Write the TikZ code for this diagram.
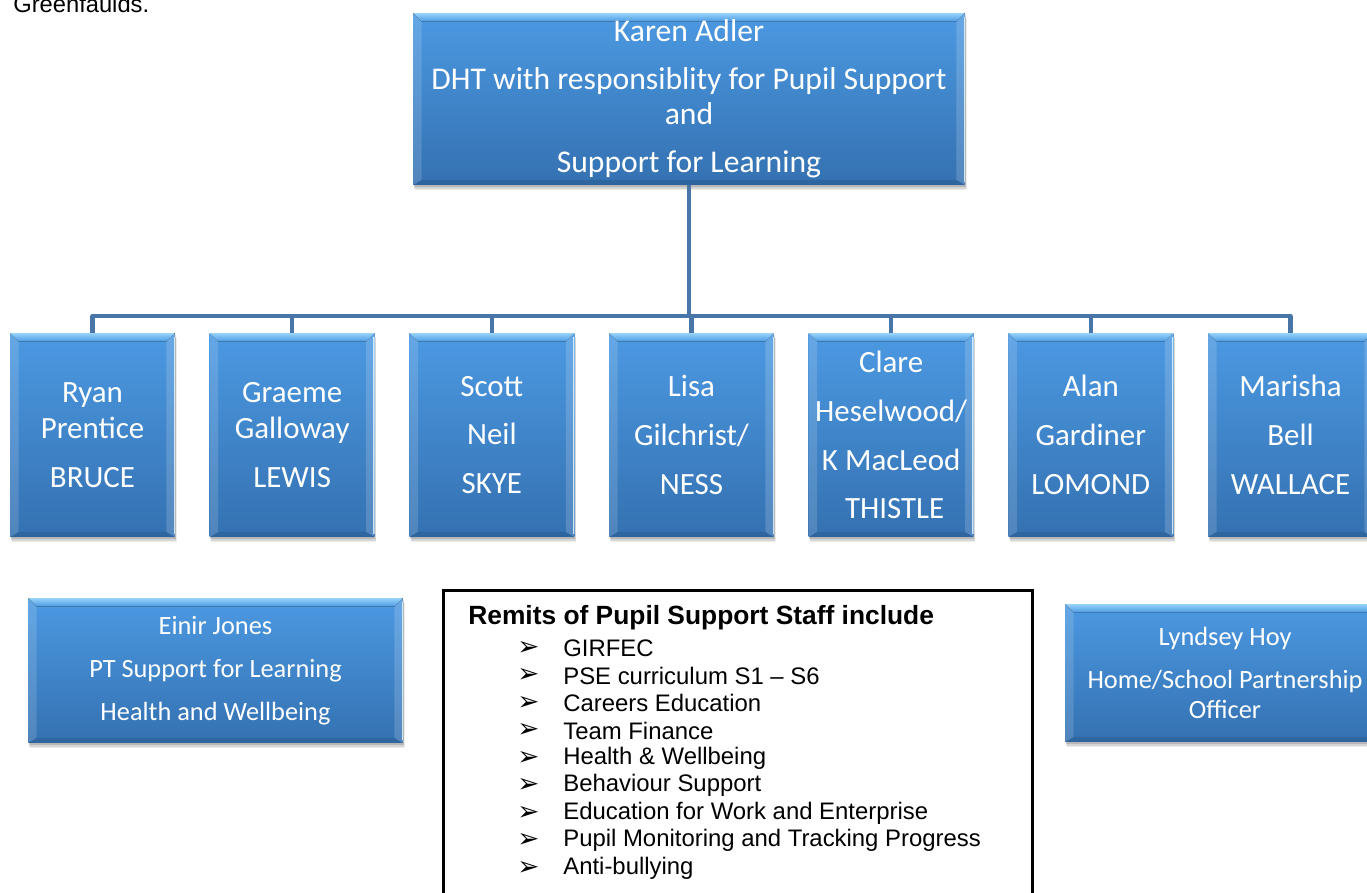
\documentclass[tikz,border=0pt]{standalone}
\usepackage{fontspec}
\setmainfont{Liberation Sans}
\newfontfamily\tilefont{Carlito}
\newfontfamily\dingfont{DejaVu Sans}
\usetikzlibrary{positioning,shadows}
\definecolor{tiletop}{RGB}{76,153,226}
\definecolor{tilebot}{RGB}{52,113,177}
\definecolor{tilehi}{RGB}{150,212,250}
\definecolor{tileedge}{RGB}{225,246,255}
\definecolor{linkblue}{RGB}{72,118,168}

% bevelled rim drawn inside every blue tile
\newcommand{\tilerim}{%
  \coordinate (nw) at (path picture bounding box.north west);
  \coordinate (ne) at (path picture bounding box.north east);
  \coordinate (sw) at (path picture bounding box.south west);
  \coordinate (se) at (path picture bounding box.south east);
  \fill[top color=tilehi,bottom color=tiletop] (nw) -- (ne) -- ([shift={(-.17cm,-.17cm)}]ne) -- ([shift={(.17cm,-.17cm)}]nw) -- cycle;
  \fill[white,fill opacity=.14] (nw) -- ([shift={(.17cm,-.17cm)}]nw) -- ([shift={(.17cm,.1cm)}]sw) -- (sw) -- cycle;
  \fill[white,fill opacity=.16] (ne) -- (se) -- ([shift={(-.17cm,.1cm)}]se) -- ([shift={(-.17cm,-.17cm)}]ne) -- cycle;
  \fill[black,fill opacity=.1] (sw) -- ([shift={(.17cm,.1cm)}]sw) -- ([shift={(-.17cm,.1cm)}]se) -- (se) -- cycle;
  \draw[tileedge,line width=1.6pt,draw opacity=.85] ([yshift=-.08cm]ne) -- ([yshift=.06cm]se);
}

\tikzset{
  tile/.style={rectangle,inner sep=0pt,text=white,align=center,
    top color=tiletop,bottom color=tilebot,path picture={\tilerim},
    drop shadow={shadow xshift=.4pt,shadow yshift=-1pt,opacity=.14,fill=black},
    drop shadow={shadow xshift=.7pt,shadow yshift=-2pt,opacity=.1,fill=black},
    drop shadow={shadow xshift=1pt,shadow yshift=-3pt,opacity=.07,fill=black}},
  house/.style={tile,minimum width=3.3cm,minimum height=4.08cm,
    font=\tilefont\fontsize{17.6}{27.8}\selectfont},
  aide/.style={tile,minimum width=7.5cm,minimum height=2.9cm,
    font=\tilefont\fontsize{15}{24.4}\selectfont},
  link/.style={draw=linkblue,line width=2.6pt},
  remit/.style={anchor=west,inner xsep=0pt,font=\fontsize{13.6}{16}\selectfont}
}

\begin{document}
\begin{tikzpicture}[x=0.02cm,y=-0.02cm,node distance=0.68cm]
\useasboundingbox (0,0) rectangle (1367,893);

\node[anchor=base west,inner sep=0pt,font=\fontsize{13.5}{16}\selectfont] (school) at (13,12) {Greenfaulds.};

% head of pupil support
\node[tile,minimum width=11.04cm,minimum height=3.44cm,font=\tilefont\fontsize{18}{27.2}\selectfont] (dht) at (689,99)
  {Karen Adler\\DHT with responsiblity for Pupil Support\\[-7.3pt]and\\Support for Learning};

% house heads
\node[house] (bruce) at (92.5,435) {Ryan\\[-7pt]Prentice\\BRUCE};
\node[house,right=of bruce] (lewis) {Graeme\\[-7pt]Galloway\\LEWIS};
\node[house,right=of lewis] (skye) {Scott\\Neil\\SKYE};
\node[house,right=of skye] (ness) {Lisa\\Gilchrist/\\NESS};
\node[house,right=of ness] (thistle) {Clare\\Heselwood/\\K MacLeod\\\ THISTLE};
\node[house,right=of thistle] (lomond) {Alan\\Gardiner\\LOMOND};
\node[house,right=of lomond] (wallace) {Marisha\\Bell\\WALLACE};

\coordinate (bus) at (689,316);
\draw[link] (dht.south) -- (bus);
\draw[link,line cap=round] (bruce.north |- bus) -- (wallace.north |- bus);
\foreach \h in {bruce,lewis,skye,ness,thistle,lomond,wallace}
  \draw[link] (\h.north |- bus) -- (\h.north);

% support staff
\node[aide] (sfl) at (215.5,670.5) {Einir Jones\\PT Support for Learning\\Health and Wellbeing};
\node[aide,minimum width=6.4cm,minimum height=2.76cm] (hsp) at (1225,673)
  {Lyndsey Hoy\\Home/School Partnership\\[-7.4pt]Officer};

% remits
\node[draw,line width=1.7pt,minimum width=11.8cm,minimum height=6.8cm] (remits) at (738,760) {};
\node[remit,font=\bfseries\fontsize{15}{18}\selectfont] (rhead) at (468,618) {Remits of Pupil Support Staff include};
\foreach \txt [count=\i] in {GIRFEC,{PSE curriculum S1 – S6},Careers Education,Team Finance,
    Health \& Wellbeing,Behaviour Support,Education for Work and Enterprise,
    Pupil Monitoring and Tracking Progress,Anti-bullying} {
  \node[anchor=west,inner xsep=0pt,font=\dingfont\bfseries\fontsize{15}{16}\selectfont] (b\i) at (517,648+27.5*\i-27.5) {➢};
  \node[remit] (r\i) at (563,648+27.5*\i-27.5) {\txt};
}
\end{tikzpicture}
\end{document}
